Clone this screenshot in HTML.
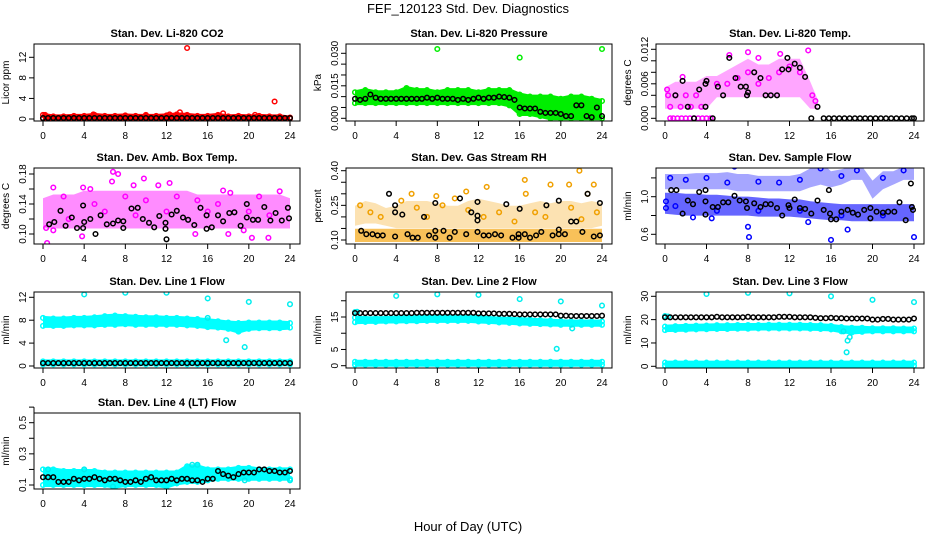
<!DOCTYPE html>
<html><head><meta charset="utf-8"><style>
html,body{margin:0;padding:0;background:#fff;}
svg{display:block;font-family:"Liberation Sans",Arial,sans-serif;}
</style></head><body>
<svg id="chart" width="936" height="540" viewBox="0 0 936 540">
<text x="468" y="13" text-anchor="middle" font-size="13">FEF_120123  Std. Dev. Diagnostics</text>
<text x="468" y="531" text-anchor="middle" font-size="13">Hour of Day (UTC)</text>
</svg>
<script>
const H=[0,1,2,3,4,5,6,7,8,9,10,11,12,13,14,15,16,17,18,19,20,21,22,23,24];
const H2=[0,0.5,1,1.5,2,2.5,3,3.5,4,4.5,5,5.5,6,6.5,7,7.5,8,8.5,9,9.5,10,10.5,11,11.5,12,12.5,13,13.5,14,14.5,15,15.5,16,16.5,17,17.5,18,18.5,19,19.5,20,20.5,21,21.5,22,22.5,23,23.5,24];
const xTicks=[0,4,8,12,16,20,24];

// Panel 1 CO2
const co2Lo=[0.1,0.1,0.1,0.1,0.1,0.1,0.1,0.1,0.1,0.1,0.1,0.1,0.1,0.1,0.1,0.1,0.1,0.1,0.1,0.1,0.1,0.1,0.1,0.1,0.1];
const co2Hi=[0.8,0.5,0.5,0.6,0.6,0.8,0.6,0.6,0.7,0.6,0.6,0.6,0.7,0.9,0.8,0.6,0.6,0.8,0.5,0.6,0.5,0.6,0.5,0.5,0.3];
const co2Out=[[0.2,0.8],[4.9,0.9],[10,0.8],[12.3,0.9],[13.3,1.3],[14,13.8],[17.5,1.1],[20.6,0.8],[22.5,3.4]];
const co2Black=[0.2,0.2,0.2,0.2,0.2,0.2,0.2,0.2,0.2,0.2,0.2,0.2,0.2,0.2,0.2,0.2,0.2,0.2,0.2,0.2,0.2,0.2,0.2,0.2,0.2,0.2,0.2,0.2,0.2,0.2,0.2,0.2,0.2,0.2,0.2,0.2,0.2,0.2,0.2,0.2,0.2,0.2,0.2,0.2,0.2,0.2,0.2,0.2,0.2];

// Panel 2 Pressure
const presLo=[0.007,0.007,0.007,0.007,0.007,0.007,0.007,0.007,0.007,0.007,0.007,0.007,0.007,0.007,0.007,0.006,0.002,0.002,0.001,0,0,0,0,0,0];
const presHi=[0.012,0.013,0.012,0.012,0.012,0.014,0.013,0.013,0.012,0.013,0.013,0.013,0.012,0.013,0.013,0.013,0.011,0.010,0.010,0.010,0.009,0.010,0.010,0.009,0.008];
const presOut=[[8,0.032],[16,0.028],[24,0.032]];
const presBlack=[0.009,0.0085,0.009,0.011,0.0095,0.009,0.009,0.009,0.009,0.009,0.009,0.009,0.009,0.009,0.0095,0.009,0.0095,0.009,0.009,0.009,0.0085,0.009,0.0085,0.009,0.0095,0.009,0.0095,0.0095,0.010,0.0098,0.0095,0.0085,0.005,0.0045,0.0045,0.0045,0.003,0.0025,0.0025,0.0025,0.002,0.001,0.001,0.006,0.006,0.001,0.0005,0.005,0.001];

// Panel 3 Li-820 Temp
const tempH=[0,1,2,3,4,5,6,7,8,9,10,11,12,13,14,14.7];
const tempLo=[0.002,0.002,0.002,0.002,0.002,0.004,0.004,0.004,0.004,0.004,0.004,0.004,0.004,0.004,0.002,0.002];
const tempHi=[0.005,0.006,0.006,0.006,0.007,0.007,0.008,0.009,0.010,0.009,0.009,0.010,0.010,0.010,0.006,0.003];
const tempPts=[[0.5,0],[0.8,0],[1.2,0],[1.6,0],[2,0],[2.4,0],[2.8,0],[3.2,0],[3.6,0],[4,0],[4.4,0],[6.2,0.011],[8,0.0115],[11.1,0.0112],[13.8,0.0118],[9,0.0105],[1.7,0.0072],[0.2,0.005],[0.3,0.004],[1,0.004],[2,0.004],[3,0.004],[0.5,0.002],[1.5,0.002],[2.5,0.002],[3.5,0.002],[5,0.006],[6,0.006],[7,0.007],[8,0.008],[9,0.006],[10,0.007],[11,0.008],[12,0.009],[13,0.008],[14.2,0.004],[14.5,0.003]];
const tempBlack=[[1,0.004],[1.7,0.0065],[2.2,0.002],[2.8,0],[3.3,0.005],[3.9,0.006],[3.9,0.002],[4,0.0065],[4.6,0],[5.1,0.0055],[5.6,0.004],[6.2,0.0105],[6.8,0.007],[7.3,0.0055],[7.8,0.0055],[7.9,0.004],[8,0.0045],[8.6,0.008],[9.2,0.007],[9.7,0.004],[10.2,0.004],[10.8,0.004],[11.3,0.0085],[11.8,0.0105],[11.9,0.0085],[12.5,0.0095],[13,0.0088],[13.5,0.0072],[14.1,0],[14.7,0.002],[15.3,0],[15.8,0],[16.3,0],[16.8,0],[17.3,0],[17.8,0],[18.3,0],[18.8,0],[19.3,0],[19.8,0],[20.3,0],[20.8,0],[21.3,0],[21.8,0],[22.3,0],[22.8,0],[23.3,0],[23.8,0],[24,0]];

// Panel 4 Amb Box Temp
const ambLo=[0.11,0.11,0.11,0.11,0.11,0.11,0.11,0.11,0.11,0.11,0.11,0.11,0.11,0.11,0.11,0.11,0.11,0.11,0.11,0.11,0.11,0.11,0.11,0.11,0.11];
const ambHi=[0.145,0.15,0.15,0.15,0.155,0.155,0.155,0.155,0.155,0.155,0.155,0.155,0.155,0.155,0.155,0.15,0.15,0.15,0.15,0.15,0.15,0.15,0.15,0.15,0.145];
const ambOut=[[0.4,0.088],[6.8,0.183],[6.7,0.170],[7.3,0.180],[9.8,0.174],[12.3,0.168],[20.3,0.095],[21.9,0.095],[3.8,0.097],[1,0.162],[3.9,0.162],[4.6,0.16],[8.8,0.165],[11.2,0.165],[17.5,0.158],[18.2,0.155],[23,0.157],[0.3,0.108],[1,0.105],[14.8,0.1],[18,0.1],[19.5,0.105],[2,0.15],[5,0.14],[8,0.15],[10,0.145],[13,0.15],[15,0.145],[17,0.14],[21,0.15],[2.5,0.12],[6,0.13],[9,0.125],[12,0.13],[16,0.13],[20,0.13],[22,0.125]];
const ambBlack=[[0.6,0.113],[1.1,0.116],[1.7,0.131],[2.2,0.111],[2.8,0.122],[3.3,0.108],[3.9,0.108],[3.9,0.138],[4,0.116],[4.6,0.120],[5.1,0.100],[5.6,0.125],[6.2,0.113],[6.8,0.114],[7.3,0.118],[7.8,0.108],[7.8,0.117],[8.6,0.134],[9.2,0.135],[9.7,0.120],[10.3,0.115],[10.8,0.109],[11.3,0.124],[11.9,0.115],[11.9,0.107],[12,0.093],[12.5,0.126],[13,0.131],[13.6,0.122],[14.1,0.119],[14.7,0.112],[15.3,0.135],[15.9,0.125],[15.9,0.107],[16.4,0.109],[17,0.125],[17.5,0.117],[18.1,0.128],[18.6,0.129],[19.2,0.111],[19.8,0.140],[19.8,0.122],[20.4,0.119],[20.9,0.119],[21.5,0.136],[22.1,0.118],[22.6,0.128],[23.2,0.118],[23.8,0.135],[23.9,0.121]];

// Panel 5 Gas Stream RH
const rhLo=[0.10,0.10,0.10,0.10,0.10,0.10,0.10,0.10,0.10,0.10,0.10,0.10,0.10,0.10,0.10,0.10,0.10,0.10,0.10,0.10,0.10,0.10,0.10,0.10,0.10];
const rhHi=[0.14,0.14,0.14,0.14,0.14,0.14,0.14,0.14,0.14,0.14,0.14,0.14,0.14,0.14,0.14,0.14,0.14,0.14,0.14,0.14,0.14,0.14,0.14,0.14,0.14];
const rhUpLo=[0.17,0.18,0.18,0.17,0.16,0.16,0.16,0.16,0.16,0.16,0.16,0.16,0.16,0.16,0.16,0.16,0.16,0.16,0.16,0.16,0.16,0.16,0.16,0.16,0.17];
const rhUpHi=[0.24,0.26,0.25,0.23,0.24,0.26,0.26,0.26,0.25,0.24,0.24,0.26,0.27,0.26,0.25,0.24,0.24,0.25,0.26,0.25,0.26,0.26,0.25,0.26,0.25];
const rhOut=[[16.5,0.36],[21.8,0.40],[23.2,0.34],[19,0.34],[20.8,0.34],[12.8,0.33],[10.8,0.31],[5.5,0.30],[16.6,0.30],[22.6,0.30],[7.9,0.29],[9.7,0.28],[0.5,0.25],[1.5,0.22],[2.5,0.2],[4.5,0.27],[6,0.24],[7,0.2],[8.5,0.25],[11,0.23],[12.5,0.2],[14,0.22],[15.5,0.18],[17.5,0.22],[18.5,0.2],[21,0.24],[22,0.19],[23.5,0.22]];
const rhBlack=[[0.6,0.14],[1.1,0.125],[1.7,0.125],[2.2,0.12],[2.7,0.12],[3.3,0.30],[3.9,0.25],[3.9,0.22],[3.9,0.115],[4.6,0.21],[5.1,0.125],[5.6,0.11],[6.1,0.11],[6.7,0.20],[7.2,0.12],[7.8,0.26],[7.8,0.14],[7.8,0.11],[8.6,0.14],[9.2,0.11],[9.7,0.135],[10.2,0.28],[10.8,0.125],[11.3,0.22],[11.9,0.265],[11.9,0.205],[11.9,0.185],[11.9,0.135],[12.5,0.12],[13,0.12],[13.6,0.125],[14.2,0.12],[14.7,0.255],[15.3,0.11],[15.9,0.125],[15.9,0.11],[16,0.235],[16.5,0.125],[17,0.11],[17.6,0.12],[18.1,0.135],[18.6,0.25],[19.2,0.12],[19.8,0.27],[19.8,0.145],[19.8,0.125],[20.4,0.125],[21,0.18],[21.5,0.18],[22.1,0.135],[22.6,0.30],[23.2,0.115],[23.8,0.26],[23.8,0.12]];

// Panel 6 Sample Flow
const sfLo=[0.84,0.83,0.82,0.82,0.82,0.82,0.82,0.82,0.82,0.81,0.81,0.81,0.81,0.80,0.79,0.78,0.77,0.77,0.76,0.76,0.76,0.76,0.76,0.76,0.76];
const sfHi=[1.02,1.02,1.01,1.01,1.00,1.00,0.99,0.98,0.98,0.97,0.96,0.96,0.95,0.95,0.93,0.92,0.91,0.90,0.90,0.90,0.90,0.90,0.90,0.90,0.90];
const sfUpLo=[1.10,1.10,1.10,1.10,1.10,1.10,1.10,1.08,1.08,1.08,1.08,1.08,1.08,1.08,1.12,1.15,1.12,1.15,1.20,1.20,1.00,1.10,1.15,1.20,1.20];
const sfUpHi=[1.22,1.22,1.22,1.23,1.23,1.23,1.24,1.22,1.22,1.20,1.20,1.20,1.20,1.22,1.28,1.35,1.25,1.27,1.30,1.30,1.15,1.25,1.25,1.30,1.28];
const sfOut=[[8,0.68],[8.1,0.57],[16,0.54],[24,0.57],[4.5,0.77],[17.6,0.65],[13.8,0.73],[6.7,1.32],[2.7,0.78],[0.1,0.95],[0.1,0.88],[0.5,1.2],[2,1.18],[4,1.2],[6,1.15],[9,1.16],[11,1.15],[13,1.18],[15,1.3],[17,1.22],[18.5,1.28],[21,1.2],[23,1.28],[1,0.9],[5,0.85],[9,0.85],[13,0.85],[17,0.8],[21,0.8]];
const sfBlack=[[0.6,1.07],[1.1,1.07],[1.7,0.82],[2.2,0.96],[2.7,0.92],[3.3,1.05],[3.9,1.07],[3.9,0.95],[3.9,0.81],[4.6,0.89],[5.1,0.89],[5.6,0.94],[6.1,0.94],[6.7,1.01],[7.2,0.96],[7.8,0.95],[7.9,0.88],[8.6,0.93],[9.2,0.89],[9.7,0.92],[10.2,0.92],[10.8,0.88],[11.3,0.80],[11.9,0.91],[12,0.88],[12.5,0.97],[13,0.88],[13.5,0.87],[14.1,0.82],[14.7,0.96],[15.3,0.86],[15.8,1.07],[15.9,0.82],[16,0.76],[16.5,0.76],[17,0.84],[17.6,0.86],[18.1,0.83],[18.6,0.81],[19.2,0.86],[19.8,0.88],[19.8,0.77],[20.4,0.84],[21,0.83],[21.5,0.84],[22.1,0.84],[22.6,0.94],[23.2,0.75],[23.7,1.14],[23.8,0.89],[23.9,0.86]];

// Panel 7 Line 1 Flow
const l1Lo=[7.0,7.0,7.0,7.1,7.1,7.1,7.2,7.2,7.3,7.2,7.2,7.2,7.2,7.2,7.1,7.0,6.8,6.7,6.5,6.0,6.5,6.6,6.6,6.6,6.7];
const l1Hi=[8.4,8.3,8.3,8.4,8.4,8.5,8.7,8.8,8.7,8.6,8.5,8.5,8.4,8.4,8.3,8.2,8.0,7.8,7.6,7.5,7.6,7.6,7.6,7.6,7.5];
const l1BotLo=[0.3,0.3,0.3,0.3,0.3,0.3,0.3,0.3,0.3,0.3,0.3,0.3,0.3,0.3,0.3,0.3,0.3,0.3,0.3,0.3,0.3,0.3,0.3,0.3,0.3];
const l1BotHi=[0.8,0.8,0.8,0.8,0.8,0.8,0.8,0.8,0.8,0.8,0.8,0.8,0.8,0.8,0.8,0.8,0.8,0.8,0.8,0.8,0.8,0.8,0.8,0.8,0.8];
const l1Out=[[4,12.5],[8,12.8],[12,12.8],[16,11.8],[20,11.2],[24,10.8],[17.8,4.5],[19.6,3.3],[16,8.4]];
const l1Black=[0.5,0.5,0.5,0.5,0.5,0.5,0.5,0.5,0.5,0.5,0.5,0.5,0.5,0.5,0.5,0.5,0.5,0.5,0.5,0.5,0.5,0.5,0.5,0.5,0.5,0.5,0.5,0.5,0.5,0.5,0.5,0.5,0.5,0.5,0.5,0.5,0.5,0.5,0.5,0.5,0.5,0.5,0.5,0.5,0.5,0.5,0.5,0.5,0.5];

// Panel 8 Line 2 Flow
const l2Lo=[13.4,13.5,13.5,13.6,13.6,13.7,13.7,13.8,13.8,13.8,13.8,13.8,13.6,13.5,13.3,13.2,13.0,12.9,12.8,12.7,12.6,12.6,12.6,12.6,12.6];
const l2Hi=[14.8,14.6,14.6,14.7,14.8,14.9,14.9,15.0,15.0,15.0,15.0,15.0,14.9,14.7,14.5,14.4,14.3,14.2,14.0,13.9,13.7,13.6,13.6,13.6,13.6];
const l2BotLo=[0.3,0.3,0.3,0.3,0.3,0.3,0.3,0.3,0.3,0.3,0.3,0.3,0.3,0.3,0.3,0.3,0.3,0.3,0.3,0.3,0.3,0.3,0.3,0.3,0.3];
const l2BotHi=[1.2,1.2,1.2,1.2,1.2,1.2,1.2,1.2,1.2,1.2,1.2,1.2,1.2,1.2,1.2,1.2,1.2,1.2,1.2,1.2,1.2,1.2,1.2,1.2,1.2];
const l2Out=[[4,21.5],[8,22],[12,21.8],[16,20.5],[20,19.8],[24,18.5],[19.6,5.2],[21.1,11.5],[0,16.5],[0.2,16.6]];
const l2Black=[16.2,16.2,16.2,16.2,16.2,16.2,16.2,16.2,16.2,16.2,16.2,16.2,16.3,16.3,16.3,16.3,16.3,16.3,16.3,16.3,16.3,16.3,16.3,16.3,16.1,16.1,16.1,16.1,16.0,16.0,16.0,15.9,15.8,15.8,15.8,15.8,15.8,15.8,15.8,15.8,15.4,15.4,15.3,15.3,15.3,15.3,15.3,15.3,15.4];

// Panel 9 Line 3 Flow
const l3Lo=[15.5,15.6,15.7,15.8,15.9,16.0,16.0,16.1,16.1,16.2,16.2,16.2,16.2,16.2,16.1,16.0,15.8,15.0,14.5,14.8,15.0,15.0,15.0,15.0,15.0];
const l3Hi=[17.0,17.2,17.3,17.4,17.5,17.6,17.6,17.7,17.7,17.7,17.8,17.8,17.8,17.8,17.7,17.6,17.3,16.8,16.5,16.5,16.3,16.3,16.3,16.2,16.2];
const l3BotLo=[0.3,0.3,0.3,0.3,0.3,0.3,0.3,0.3,0.3,0.3,0.3,0.3,0.3,0.3,0.3,0.3,0.3,0.3,0.3,0.3,0.3,0.3,0.3,0.3,0.3];
const l3BotHi=[1.6,1.6,1.6,1.6,1.6,1.6,1.6,1.6,1.6,1.6,1.6,1.6,1.6,1.6,1.6,1.6,1.6,1.6,1.6,1.6,1.6,1.6,1.6,1.6,1.6];
const l3Out=[[17.5,6],[17.6,11],[17.8,12.5],[17.2,15],[4,31],[8,31.5],[12,31.3],[16,30],[20,28.5],[24,27.5],[0,21.5],[0.3,21.3]];
const l3Black=[21.0,21.0,21.0,21.0,21.0,21.0,21.0,21.0,21.0,21.0,21.2,21.0,21.0,21.0,21.0,21.0,21.2,21.0,21.0,21.0,21.0,21.0,21.2,21.2,21.2,21.0,21.0,21.0,21.0,20.8,20.6,20.6,20.8,20.6,20.6,20.5,20.5,20.5,20.5,20.5,20.0,20.0,20.3,20.3,20.0,20.0,20.0,20.0,20.5];

// Panel 10 Line 4 (LT) Flow
const l4Lo=[0.10,0.10,0.10,0.10,0.10,0.10,0.10,0.09,0.10,0.10,0.10,0.10,0.09,0.11,0.12,0.12,0.13,0.14,0.14,0.14,0.14,0.14,0.14,0.14,0.14];
const l4Hi=[0.20,0.20,0.19,0.19,0.19,0.19,0.18,0.18,0.18,0.18,0.18,0.18,0.18,0.18,0.22,0.22,0.20,0.20,0.20,0.21,0.21,0.20,0.20,0.20,0.20];
const l4Out=[[4,0.62],[12,0.66],[20,0.59],[14.5,0.23],[15,0.23],[4,0.2],[0.5,0.2],[6.8,0.09],[19.6,0.13],[24,0.13]];
const l4Black=[0.15,0.15,0.15,0.12,0.12,0.12,0.14,0.13,0.14,0.14,0.15,0.14,0.13,0.14,0.14,0.13,0.12,0.12,0.13,0.12,0.14,0.15,0.13,0.13,0.13,0.14,0.13,0.14,0.14,0.13,0.13,0.12,0.14,0.14,0.19,0.17,0.16,0.15,0.17,0.18,0.18,0.18,0.20,0.20,0.19,0.19,0.18,0.18,0.19];

const svg=document.getElementById('chart');
const NS='http://www.w3.org/2000/svg';
function mk(tag,attrs,parent){const e=document.createElementNS(NS,tag);for(const k in attrs)e.setAttribute(k,attrs[k]);(parent||svg).appendChild(e);return e;}

const colL=[34,346,656], colR=[300,612,924];
const rowT=[44,168,292,413], rowB=[121,244,368,489];

const panels=[
 {name:'co2',title:'Stan. Dev. Li-820 CO2',ylab:'Licor ppm',c:0,r:0,cal:[0,119,12,57.3],yt:[0,4,8,12],yl:['0','4','8','12'],
  layers:[{band:[H,co2Lo,co2Hi],col:'#ff0000',op:1,edges:true},{pairs:co2Out,col:'#ff0000'},{xs:H2,ys:co2Black,col:'#000'}]},
 {name:'pressure',title:'Stan. Dev. Li-820 Pressure',ylab:'kPa',c:1,r:0,cal:[0,118.3,0.03,53.3],yt:[0,0.005,0.01,0.015,0.02,0.025,0.03],yl:['0.000','','','0.015','','','0.030'],
  layers:[{band:[H,presLo,presHi],col:'#00ee00',op:1,edges:true},{pairs:presOut,col:'#00ee00'},{xs:H2,ys:presBlack,col:'#000'}]},
 {name:'li820-temp',title:'Stan. Dev. Li-820 Temp.',ylab:'degrees C',c:2,r:0,cal:[0,118.3,0.012,49.3],yt:[0,0.002,0.004,0.006,0.008,0.01,0.012],yl:['0.000','','','0.006','','','0.012'],
  layers:[{band:[tempH,tempLo,tempHi],col:'#ff00ff',op:0.35,edges:false},{pairs:tempPts,col:'#ff00ff'},{pairs:tempBlack,col:'#000'}]},
 {name:'amb-box-temp',title:'Stan. Dev. Amb. Box Temp.',ylab:'degrees C',c:0,r:1,cal:[0.10,234,0.18,174],yt:[0.10,0.12,0.14,0.16,0.18],yl:['0.10','','0.14','','0.18'],
  layers:[{band:[H,ambLo,ambHi],col:'#ff00ff',op:0.45,edges:false},{pairs:ambOut,col:'#ff00ff'},{pairs:ambBlack,col:'#000'}]},
 {name:'gas-rh',title:'Stan. Dev. Gas Stream RH',ylab:'percent',c:1,r:1,cal:[0.10,240,0.40,170.7],yt:[0.10,0.15,0.20,0.25,0.30,0.35,0.40],yl:['0.10','','','0.25','','','0.40'],
  layers:[{band:[H,rhUpLo,rhUpHi],col:'#f5a000',op:0.3,edges:false},{band:[H,rhLo,rhHi],col:'#f5a000',op:0.65,edges:false},{pairs:rhOut,col:'#f0a000'},{pairs:rhBlack,col:'#000'}]},
 {name:'sample-flow',title:'Stan. Dev. Sample Flow',ylab:'ml/min',c:2,r:1,cal:[0.6,234.3,1.0,196.7],yt:[0.6,0.8,1.0,1.2],yl:['0.6','','1.0',''],
  layers:[{band:[H,sfUpLo,sfUpHi],col:'#0000ff',op:0.35,edges:false},{band:[H,sfLo,sfHi],col:'#0000ff',op:0.6,edges:false},{pairs:sfOut,col:'#0000ff'},{pairs:sfBlack,col:'#000'}]},
 {name:'line1-flow',title:'Stan. Dev. Line 1 Flow',ylab:'ml/min',c:0,r:2,cal:[0,366,12,297.3],yt:[0,4,8,12],yl:['0','4','8','12'],
  layers:[{band:[H,l1Lo,l1Hi],col:'#00ffff',op:1,edges:true},{band:[H,l1BotLo,l1BotHi],col:'#00ffff',op:1,edges:true},{pairs:l1Out,col:'#00eeee'},{xs:H2,ys:l1Black,col:'#000'}]},
 {name:'line2-flow',title:'Stan. Dev. Line 2 Flow',ylab:'ml/min',c:1,r:2,cal:[0,365.7,15,317],yt:[0,5,10,15,20],yl:['0','5','','15',''],
  layers:[{band:[H,l2Lo,l2Hi],col:'#00ffff',op:1,edges:true},{band:[H,l2BotLo,l2BotHi],col:'#00ffff',op:1,edges:true},{pairs:l2Out,col:'#00eeee'},{xs:H2,ys:l2Black,col:'#000'}]},
 {name:'line3-flow',title:'Stan. Dev. Line 3 Flow',ylab:'ml/min',c:2,r:2,cal:[0,366.3,30,296.3],yt:[0,10,20,30],yl:['0','10','20','30'],
  layers:[{band:[H,l3Lo,l3Hi],col:'#00ffff',op:1,edges:true},{band:[H,l3BotLo,l3BotHi],col:'#00ffff',op:1,edges:true},{pairs:l3Out,col:'#00eeee'},{xs:H2,ys:l3Black,col:'#000'}]},
 {name:'line4-flow',title:'Stan. Dev. Line 4 (LT) Flow',ylab:'ml/min',c:0,r:3,cal:[0.1,485,0.5,422.7],yt:[0.1,0.2,0.3,0.4,0.5,0.6],yl:['0.1','','0.3','','0.5',''],
  layers:[{band:[H,l4Lo,l4Hi],col:'#00ffff',op:1,edges:true},{pairs:l4Out,col:'#00eeee'},{xs:H2,ys:l4Black,col:'#000'}]}
];

function circ(g,x,y,col,name){
  const c=mk('circle',{cx:x.toFixed(1),cy:y.toFixed(1),r:2.3,fill:'none',stroke:col,'stroke-width':1.5},g);
  
  
}

panels.forEach((p,pi)=>{
  const L=colL[p.c],R=colR[p.c],T=rowT[p.r],B=rowB[p.r];
  const x0=L+9,x1=R-10;
  const xs=v=>x0+(x1-x0)*v/24;
  const [v1,py1,v2,py2]=p.cal;
  const ys=v=>py1+(v-v1)*(py2-py1)/(v2-v1);
  const g=mk('g',{});
  
  
  const clipId='clip'+pi;
  const cp=mk('clipPath',{id:clipId},g);
  mk('rect',{x:L,y:T,width:R-L,height:B-T},cp);
  const title=mk('text',{x:(L+R)/2,y:T-7,'text-anchor':'middle','font-size':11,'font-weight':'bold'},g);
  title.textContent=p.title;
  
  
  const yl=mk('text',{x:0,y:0,'text-anchor':'middle','font-size':10,transform:`translate(${L-25},${(T+B)/2}) rotate(-90)`},g);
  yl.textContent=p.ylab;
  
  
  const data=mk('g',{'clip-path':`url(#${clipId})`},g);
  
  
  p.layers.forEach(ly=>{
    if(ly.band){
      const [hx,lo,hi]=ly.band;const n=Math.min(hx.length,lo.length,hi.length);
      let pts=[];
      for(let i=0;i<n;i++)pts.push(xs(hx[i]).toFixed(1)+','+(ys(hi[i])-2).toFixed(1));
      for(let i=n-1;i>=0;i--)pts.push(xs(hx[i]).toFixed(1)+','+(ys(lo[i])+2).toFixed(1));
      const poly=mk('polygon',{points:pts.join(' '),fill:ly.col,'fill-opacity':ly.op,stroke:'none'},data);
      
      
      if(ly.edges){
        for(let i=0;i<n;i++){circ(data,xs(hx[i]),ys(hi[i]),ly.col,p.name+'-point');circ(data,xs(hx[i]),ys(lo[i]),ly.col,p.name+'-point');}
      }
    } else if(ly.pairs){
      ly.pairs.forEach(q=>circ(data,xs(q[0]),ys(q[1]),ly.col,p.name+'-point'));
    } else {
      const n=Math.min(ly.xs.length,ly.ys.length);
      for(let i=0;i<n;i++)circ(data,xs(ly.xs[i]),ys(ly.ys[i]),ly.col,p.name+'-point');
    }
  });
  const box=mk('rect',{x:L,y:T,width:R-L,height:B-T,fill:'none',stroke:'#000','stroke-width':1},g);
  
  
  const xa=mk('g',{},g);
  
  
  mk('line',{x1:xs(0),x2:xs(24),y1:B,y2:B,stroke:'#000'},xa);
  xTicks.forEach(t=>{
    mk('line',{x1:xs(t),x2:xs(t),y1:B,y2:B+5,stroke:'#000'},xa);
    const tx=mk('text',{x:xs(t),y:B+18,'text-anchor':'middle','font-size':10},xa);
    tx.textContent=String(t);
  });
  const ya=mk('g',{},g);
  
  
  mk('line',{x1:L,x2:L,y1:ys(p.yt[0]),y2:ys(p.yt[p.yt.length-1]),stroke:'#000'},ya);
  p.yt.forEach((t,i)=>{
    mk('line',{x1:L-5,x2:L,y1:ys(t),y2:ys(t),stroke:'#000'},ya);
    if(p.yl[i]){
      const tx=mk('text',{x:0,y:0,'text-anchor':'middle','font-size':10,transform:`translate(${L-8},${ys(t)}) rotate(-90)`},ya);
      tx.textContent=p.yl[i];
    }
  });
});
</script>
</body></html>
